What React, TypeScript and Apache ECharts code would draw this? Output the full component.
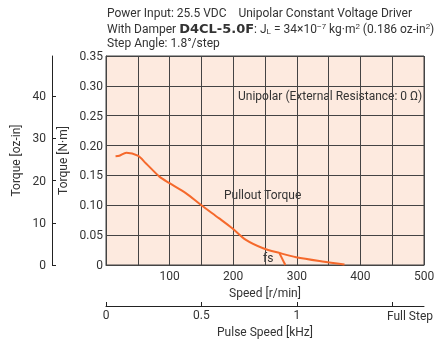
import React, { useEffect, useRef } from "react";
import * as echarts from "echarts";

const pulloutSpeed = [15, 21, 32, 50, 63, 84, 100, 126, 150, 178, 199, 220, 247, 273, 299, 340, 375];
const pulloutTorque = [0.182, 0.183, 0.188, 0.183, 0.170, 0.148, 0.137, 0.120, 0.100, 0.078, 0.061, 0.042, 0.028, 0.020, 0.013, 0.006, 0.001];
const fsSpeed = [273, 282];
const fsTorque = [0.019, 0];
const NM_TO_OZIN = 141.612;
const TORQUE_MAX = 0.35;
const SPEED_MAX = 500;
const RPM_PER_KHZ = 300;

const FONT = "'Liberation Sans Narrow', 'Roboto', 'Liberation Sans', sans-serif";
const TXT = "#333";
const ORANGE = "#f5692c";
const GRIDLINE = "#444";

export default function App() {
  const ref = useRef<HTMLDivElement>(null);
  useEffect(() => {
    const chart = echarts.init(ref.current!, undefined, { renderer: "svg" });
    const pts = pulloutSpeed.map((s, i) => [s, pulloutTorque[i]]);
    const fs = fsSpeed.map((s, i) => [s, fsTorque[i]]);
    chart.setOption({
      animation: false,
      textStyle: { fontFamily: FONT, color: TXT },
      grid: {
        left: 106, top: 56, right: 18, bottom: 74,
        containLabel: false, outerBoundsMode: "none",
        show: true, backgroundColor: "#fdeadf", borderColor: GRIDLINE, borderWidth: 1,
      },
      xAxis: [
        {
          type: "value", min: 0, max: SPEED_MAX, interval: 50, position: "bottom",
          axisLine: { show: true, onZero: false, lineStyle: { color: GRIDLINE } },
          axisTick: { show: false },
          splitLine: { show: true, lineStyle: { color: GRIDLINE, width: 1 } },
          axisLabel: {
            color: TXT, fontSize: 12, fontFamily: FONT, margin: 5,
            formatter: (v: number) => (v > 0 && v % 100 === 0 ? String(v) : ""),
          },
          name: "Speed [r/min]", nameLocation: "middle", nameGap: 20,
          nameTextStyle: { color: TXT, fontSize: 12, fontFamily: FONT },
        },
        {
          type: "value", min: 0, max: SPEED_MAX / RPM_PER_KHZ, interval: 0.5, position: "bottom", offset: 41,
          axisLine: { show: true, onZero: false, lineStyle: { color: "#222" } },
          axisTick: { show: true, inside: true, length: 4, lineStyle: { color: "#222" } },
          splitLine: { show: false },
          axisLabel: {
            color: TXT, fontSize: 12, fontFamily: FONT, margin: 3, showMaxLabel: false,
            formatter: (v: number) => (v === 0 ? "0" : v === 0.5 ? "0.5" : v === 1 ? "1" : ""),
          },
          name: "Pulse Speed [kHz]", nameLocation: "middle", nameGap: 18,
          nameTextStyle: { color: TXT, fontSize: 12, fontFamily: FONT },
        },
      ],
      yAxis: [
        {
          type: "value", min: 0, max: TORQUE_MAX, interval: 0.05, position: "left",
          axisLine: { show: true, onZero: false, lineStyle: { color: GRIDLINE } },
          axisTick: { show: false },
          splitLine: { show: true, lineStyle: { color: GRIDLINE, width: 1 } },
          axisLabel: {
            color: TXT, fontSize: 12, fontFamily: FONT, margin: 3,
            formatter: (v: number) => (v === 0 ? "0" : v.toFixed(2)),
          },
          name: "Torque [N·m]", nameLocation: "middle", nameGap: 32,
          nameTextStyle: { color: TXT, fontSize: 12, fontFamily: FONT },
        },
        {
          type: "value", min: 0, max: TORQUE_MAX * NM_TO_OZIN, interval: 10, position: "left", offset: 54,
          axisLine: { show: true, onZero: false, lineStyle: { color: "#222" } },
          axisTick: { show: true, inside: true, length: 4, lineStyle: { color: "#222" } },
          splitLine: { show: false },
          axisLabel: {
            color: TXT, fontSize: 12, fontFamily: FONT, margin: 6, showMaxLabel: false,
            formatter: (v: number) => (Math.abs(v % 10) < 1e-6 ? String(Math.round(v)) : ""),
          },
          name: "Torque [oz-in]", nameLocation: "middle", nameGap: 26,
          nameTextStyle: { color: TXT, fontSize: 12, fontFamily: FONT },
        },
      ],
      series: [
        {
          type: "line", xAxisIndex: 0, yAxisIndex: 0, data: pts, smooth: 0.3,
          showSymbol: false, lineStyle: { color: ORANGE, width: 2 },
        },
        {
          type: "line", xAxisIndex: 0, yAxisIndex: 0, data: fs,
          showSymbol: false, lineStyle: { color: ORANGE, width: 2 },
        },
      ],
      graphic: [
        {
          type: "text", left: 107, top: 7,
          style: { text: "Power Input: 25.5 VDC    Unipolar Constant Voltage Driver", fontSize: 12, fontFamily: FONT, fill: TXT },
        },
        {
          type: "text", left: 107, top: 22,
          style: {
            text: "With Damper {b|D4CL-5.0F}: J{sub|L} = 34×10{sup|−7} kg·m{sup|2} (0.186 oz-in{sup|2})",
            fontSize: 12, fontFamily: FONT, fill: TXT,
            rich: {
              b: { fontSize: 13, fontWeight: "bold", fontFamily: "'DejaVu Sans', sans-serif", fill: TXT },
              sub: { fontSize: 8, fill: TXT, verticalAlign: "bottom", padding: [4, 0, 0, 0] },
              sup: { fontSize: 8, fill: TXT, verticalAlign: "top", padding: [0, 0, 5, 0] },
            },
          },
        },
        {
          type: "text", left: 107, top: 37,
          style: { text: "Step Angle: 1.8°/step", fontSize: 12, fontFamily: FONT, fill: TXT },
        },
        {
          type: "text", left: 238, top: 90,
          style: { text: "Unipolar (External Resistance: 0 Ω)", fontSize: 12, fontFamily: FONT, fill: TXT },
        },
        {
          type: "text", left: 224, top: 189,
          style: { text: "Pullout Torque", fontSize: 12, fontFamily: FONT, fill: TXT },
        },
        {
          type: "text", left: 263, top: 252,
          style: { text: "fs", fontSize: 12, fontFamily: FONT, fill: TXT },
        },
        {
          type: "text", right: 9, top: 310,
          style: { text: "Full Step", fontSize: 12, fontFamily: FONT, fill: TXT },
        },
      ],
    });
    return () => chart.dispose();
  }, []);
  return <div ref={ref} style={{ position: "fixed", left: 0, top: 0, width: 442, height: 339 }} />;
}
